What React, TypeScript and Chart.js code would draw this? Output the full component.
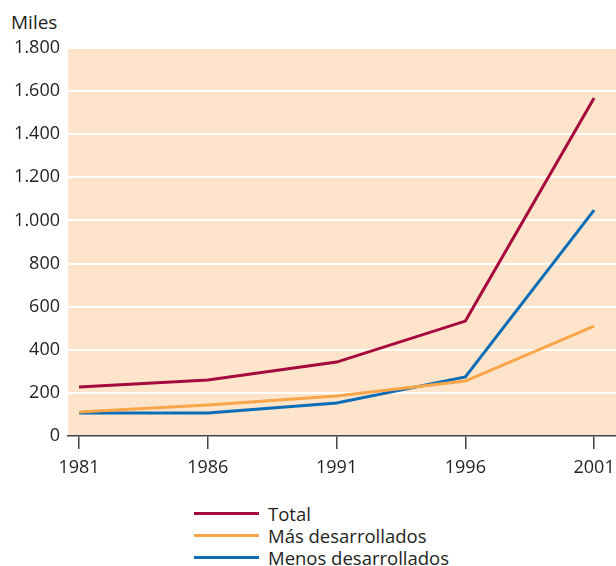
import React, { useEffect, useRef } from 'react';
import { Chart, registerables } from 'chart.js';

Chart.register(...registerables);

const years = [1981, 1986, 1991, 1996, 2001];
const total = [227, 260, 343, 533, 1568];
const masDesarrollados = [111, 144, 186, 255, 510];
const menosDesarrollados = [107, 107, 153, 274, 1048];
const seriesNames = ['Total', 'Más desarrollados', 'Menos desarrollados'];
const seriesColors = ['#a6093d', '#f9a54a', '#0b6db7'];
const yTicks = [0, 200, 400, 600, 800, 1000, 1200, 1400, 1600, 1800];
const yUnit = 'Miles';

const FONT = '"Open Sans", "DejaVu Sans", sans-serif';
const TEXT = '#231f20';

const fmt = (v: number) => String(v).replace(/\B(?=(\d{3})+(?!\d))/g, '.');

const bgPlugin = {
  id: 'plotBg',
  beforeDraw(chart: any) {
    const { ctx, chartArea } = chart;
    const { left, top, right, bottom } = chartArea;
    ctx.save();
    ctx.fillStyle = '#fde4cb';
    ctx.fillRect(left, top - 1, right - left, bottom - top + 1);
    ctx.restore();
  },
};

export default function App() {
  const ref = useRef<HTMLCanvasElement | null>(null);

  useEffect(() => {
    document.body.style.margin = '0';
    document.body.style.overflow = 'hidden';
    const seriesData = [total, masDesarrollados, menosDesarrollados];
    const chart = new Chart(ref.current as HTMLCanvasElement, {
      type: 'line',
      data: {
        datasets: seriesData.map((arr, i) => ({
          label: seriesNames[i],
          data: years.map((x, j) => ({ x, y: arr[j] })),
          borderColor: seriesColors[i],
          backgroundColor: seriesColors[i],
          borderWidth: 3,
          pointRadius: 0,
          tension: 0,
          fill: false,
        })),
      },
      options: {
        responsive: false,
        devicePixelRatio: 1,
        animation: false,
        layout: { padding: { top: 48, right: 24, left: 0, bottom: 0 } },
        plugins: {
          legend: { display: false },
          tooltip: { enabled: false },
        },
        scales: {
          x: {
            type: 'linear',
            min: 1980.57,
            max: 2001.85,
            afterBuildTicks: (s: any) => {
              s.ticks = years.map((v) => ({ value: v }));
            },
            afterFit: (s: any) => {
              s.height = 44;
            },
            ticks: {
              callback: (v: any) => String(v),
              font: { family: FONT, size: 18 },
              color: TEXT,
              padding: 8,
              maxRotation: 0,
            },
            grid: {
              drawOnChartArea: false,
              drawTicks: true,
              tickLength: 13,
              color: '#444',
              lineWidth: 1.5,
            },
            border: { display: true, color: '#444', width: 1.5 },
          },
          y: {
            min: 0,
            max: 1800,
            afterBuildTicks: (s: any) => {
              s.ticks = yTicks.map((v) => ({ value: v }));
            },
            afterFit: (s: any) => {
              s.width = 68;
            },
            ticks: {
              callback: (v: any) => fmt(Number(v)),
              font: { family: FONT, size: 18 },
              color: TEXT,
              padding: 8,
            },
            grid: {
              drawTicks: false,
              color: (c: any) => (c.tick && c.tick.value === 0 ? 'rgba(0,0,0,0)' : '#ffffff'),
              lineWidth: 2,
            },
            border: { display: false },
          },
        },
      },
      plugins: [bgPlugin],
    });
    return () => chart.destroy();
  }, []);

  return (
    <div style={{ position: 'relative', width: 616, height: 566, overflow: 'hidden', fontFamily: FONT, color: TEXT }}>
      <div style={{ position: 'absolute', left: 11, top: 10, fontSize: 19, lineHeight: '24px' }}>{yUnit}</div>
      <canvas ref={ref} width={640} height={480} style={{ position: 'absolute', left: 0, top: 0, display: 'block' }} />
      <div style={{ position: 'absolute', left: 194, top: 502 }}>
        {seriesNames.map((n, i) => (
          <div key={n} style={{ display: 'flex', alignItems: 'center', height: 22.3, fontSize: 18.5, whiteSpace: 'nowrap' }}>
            <span style={{ display: 'inline-block', width: 65, height: 3, background: seriesColors[i], marginRight: 9 }} />
            <span>{n}</span>
          </div>
        ))}
      </div>
    </div>
  );
}
